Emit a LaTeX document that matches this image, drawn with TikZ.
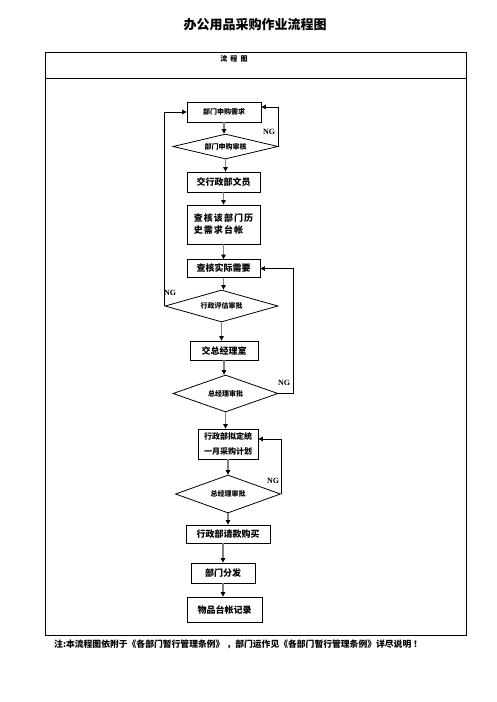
\documentclass[tikz,border=0pt]{standalone}
\usepackage{fontspec}
\setmainfont{Noto Sans CJK SC}
\newfontfamily\lat{Liberation Serif}
\usetikzlibrary{shapes.geometric,arrows.meta}
\begin{document}
\begin{tikzpicture}[x=1pt,y=-1pt,
    box/.style={draw, line width=0.8pt, inner sep=0pt, font=\bfseries\fontsize{9}{10}\selectfont},
    test/.style={draw, diamond, aspect=4, line width=0.8pt, inner sep=0pt, font=\bfseries\fontsize{7}{8}\selectfont},
    flow/.style={draw=gray, line width=1.4pt, -{Triangle[black,length=4.5pt,width=4.5pt]}},
    back/.style={draw=black, line width=0.7pt, -{Triangle[black,length=4.5pt,width=4.5pt]}},
    ng/.style={font=\lat\bfseries\fontsize{8}{8}\selectfont, inner sep=0pt}]
            \useasboundingbox (0,0) rectangle (496,702);
            \node[font=\bfseries\fontsize{13}{14}\selectfont] (title) at (255,25) {办公用品采购作业流程图};
            \draw[line width=0.9pt] (45,52) rectangle (466,635);
            \draw[line width=0.9pt] (45,78) -- (466,78);
            \node[font=\bfseries\fontsize{7}{8}\selectfont] (head) at (234,59) {流\ \ 程\ \ 图};
            \node[box, minimum width=74pt, minimum height=20pt, font=\bfseries\fontsize{7}{8}\selectfont] (req) at (224,112) {部门申购需求};
            \node[test, minimum width=105pt, minimum height=25pt] (rev) at (225.5,146.5) {部门申购审核};
            \node[box, minimum width=73pt, minimum height=20pt] (clerk) at (223.5,182) {交行政部文员};
            \node[box, minimum width=73pt, minimum height=39pt, align=left, font=\bfseries\fontsize{9}{12}\selectfont\addfontfeatures{LetterSpace=12}] (hist) at (223.5,224.5) {查核该部门历\\史需求台帐};
            \node[box, minimum width=73pt, minimum height=18pt] (need) at (223.5,268.5) {查核实际需要};
            \node[test, minimum width=113pt, minimum height=32pt] (eval) at (221.5,306) {行政评估审批};
            \node[box, minimum width=68pt, minimum height=19pt] (gm) at (224,350.5) {交总经理室};
            \node[test, minimum width=105pt, minimum height=37pt] (gmd) at (225.5,393.5) {总经理审批};
            \node[box, minimum width=60pt, minimum height=30pt, align=left, font=\bfseries\fontsize{8}{15}\selectfont] (plan) at (228,444) {行政部拟定统\\一月采购计划};
            \node[test, minimum width=105pt, minimum height=38pt] (gmb) at (228,494) {总经理审批};
            \node[box, minimum width=84pt, minimum height=18pt] (pay) at (228,534) {行政部请款购买};
            \node[box, minimum width=64pt, minimum height=20pt] (dist) at (223,573) {部门分发};
            \node[box, minimum width=75pt, minimum height=25pt] (log) at (224.5,609.5) {物品台帐记录};
            \coordinate (reqin) at ([yshift=5pt]req.east);
            \coordinate (planin) at ([yshift=5pt]plan.east);
            \draw[flow] (req.south) -- (req.south |- rev.north);
            \draw[flow] (rev.south) -- (rev.south |- clerk.north);
            \draw[flow] (clerk.south) -- (clerk.south |- hist.north);
            \draw[flow] (hist.south) -- (hist.south |- need.north);
            \draw[flow] (need.south) -- (need.south |- eval.north);
            \draw[flow] (eval.south) -- (eval.south |- gm.north);
            \draw[flow] (gm.south) -- (gm.south |- gmd.north);
            \draw[flow] (gmd.south) -- (gmd.south |- plan.north);
            \draw[flow] (plan.south) -- (plan.south |- gmb.north);
            \draw[flow] (gmb.south) -- (gmb.south |- pay.north);
            \draw[flow] (dist.north |- pay.south) -- (dist.north);
            \draw[flow] (dist.south) -- (dist.south |- log.north);
            \draw[back] (rev.east) -- (rev.east |- reqin) -- (reqin);
            \draw[back] (eval.west) -- (eval.west |- req.west) -- (req.west);
            \draw[back] (gmd.east) -- ++(15,0) |- (need.east);
            \draw[back] (gmb.east) |- (planin);
            \node[ng] (nga) at (269,132) {NG};
            \node[ng] (ngb) at (170,293) {NG};
            \node[ng] (ngc) at (284,383) {NG};
            \node[ng] (ngd) at (273,481) {NG};
            \node[anchor=west, inner sep=0pt, font=\bfseries\fontsize{8.8}{9}\selectfont] (note) at (54,644) {注:本流程图依附于《各部门暂行管理条例》 ，部门运作见《各部门暂行管理条例》详尽说明 ！};
        \end{tikzpicture}
\end{document}
